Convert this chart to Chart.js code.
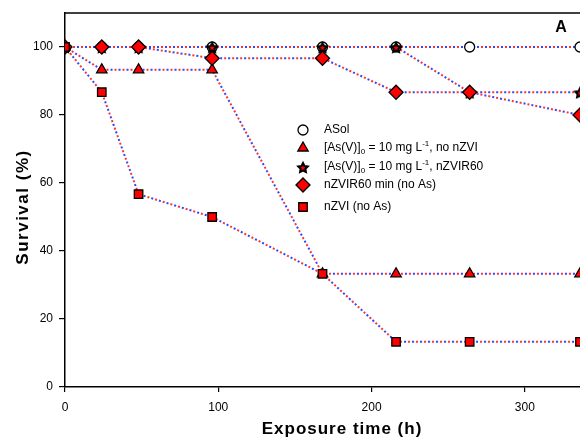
<!DOCTYPE html>
<html>
<head>
<meta charset="utf-8">
<script src="https://cdn.jsdelivr.net/npm/chart.js@4/dist/chart.umd.min.js"></script>
<style>
  html, body { margin: 0; padding: 0; background: #fff; }
  #wrap { width: 580px; height: 441px; }
</style>
</head>
<body>
<div id="wrap"><canvas id="plot" width="580" height="441"></canvas></div>
<script>
// exposure times (h)
const hours = [0, 24, 48, 96, 168, 216, 264, 336];

// survival (%) per treatment
const asol      = [100, 100, 100, 100, 100, 100, 100, 100];
const asNoNzvi  = [100, 93.3, 93.3, 93.3, 33.3, 33.3, 33.3, 33.3];
const asNzvir   = [100, 100, 100, 100, 100, 100, 86.7, 86.7];
const nzvir60   = [100, 100, 100, 96.7, 96.7, 86.7, 86.7, 80];
const nzvi      = [100, 86.7, 56.7, 50, 33.3, 13.3, 13.3, 13.3];

const yTicks = [0, 20, 40, 60, 80, 100];
const xTicks = [0, 100, 200, 300];

// filled star marker (black outline, red core)
function makeStar(r) {
    const cv = document.createElement('canvas');
    const s = Math.ceil(r * 2 + 4);
    cv.width = s; cv.height = s;
    const c = cv.getContext('2d');
    c.beginPath();
    for (let i = 0; i < 10; i++) {
        const rr = i % 2 === 0 ? r : r * 0.5;
        const a = -Math.PI / 2 + i * Math.PI / 5;
        c.lineTo(s / 2 + rr * Math.cos(a), s / 2 + 1 + rr * Math.sin(a));
    }
    c.closePath();
    c.fillStyle = '#ff0000'; c.fill();
    c.strokeStyle = '#000'; c.lineWidth = 2; c.stroke();
    return cv;
}
const starImg = makeStar(5);

// drawn bottom to top: circle, star, triangle, diamond, square
const series = [
    { name: 'ASol', values: asol, style: 'circle', fill: '#ffffff', radius: 5, order: 5 },
    { name: 'asNo', values: asNoNzvi, style: 'triangle', fill: '#ff0000', radius: 6, order: 3 },
    { name: 'asNzvir', values: asNzvir, style: starImg, fill: '#ff0000', radius: 6, order: 4 },
    { name: 'nzvir60', values: nzvir60, style: 'rectRot', fill: '#ff0000', radius: 7, order: 2 },
    { name: 'nzvi', values: nzvi, style: 'rect', fill: '#ff0000', radius: 6, order: 1 },
];

const pts = (vals) => hours.map((h, i) => ({ x: h, y: vals[i] }));

const datasets = [];
// dotted connecting lines: red and blue dots alternating
series.forEach(s => {
    datasets.push({
        data: pts(s.values), borderColor: '#ff3333', borderWidth: 2,
        borderDash: [2, 6], pointRadius: 0, fill: false, order: 10
    });
    datasets.push({
        data: pts(s.values), borderColor: '#3344ff', borderWidth: 2,
        borderDash: [2, 6], borderDashOffset: 4, pointRadius: 0, fill: false, order: 10
    });
});
// markers
series.forEach(s => {
    datasets.push({
        label: s.name, data: pts(s.values), showLine: false,
        pointStyle: s.style, pointRadius: s.radius,
        pointBackgroundColor: s.fill, pointBorderColor: '#000000',
        pointBorderWidth: 1.3, order: s.order
    });
});

const decor = {
    id: 'decor',
    afterDraw(chart) {
        const c = chart.ctx;
        const a = chart.chartArea;
        c.save();
        // top frame line
        c.strokeStyle = '#000'; c.lineWidth = 1.5;
        c.beginPath(); c.moveTo(a.left, a.top); c.lineTo(a.right, a.top); c.stroke();
        c.fillStyle = '#000';
        c.textAlign = 'center'; c.textBaseline = 'middle';
        // panel letter
        c.font = 'bold 16px Arial, "Liberation Sans"';
        c.fillText('A', 561, 28);
        // axis titles (spaced lettering)
        c.letterSpacing = '1px';
        c.font = 'bold 17px Arial, "Liberation Sans"';
        c.fillText('Exposure time (h)', 342, 429);
        c.save();
        c.translate(23, 207);
        c.rotate(-Math.PI / 2);
        c.letterSpacing = '1.5px';
        c.fillText('Survival (%)', 0, 0);
        c.restore();
        c.letterSpacing = '0px';

        // legend
        const lx = 303, tx = 324;
        const rows = [130, 148, 167, 185, 207];
        c.textAlign = 'left'; c.textBaseline = 'middle';
        const base = '12px Arial, "Liberation Sans"';
        const small = '8px Arial, "Liberation Sans"';
        const parts = [
            [['ASol', 0]],
            [['[As(V)]', 0], ['0', 1], [' = 10 mg L', 0], ['-1', -1], [', no nZVI', 0]],
            [['[As(V)]', 0], ['0', 1], [' = 10 mg L', 0], ['-1', -1], [', nZVIR60', 0]],
            [['nZVIR60 min (no As)', 0]],
            [['nZVI (no As)', 0]]
        ];
        series.forEach((s, i) => {
            const y = rows[i];
            c.fillStyle = s.fill; c.strokeStyle = '#000'; c.lineWidth = 1.3;
            Chart.helpers.drawPoint(c, { pointStyle: s.style, radius: s.radius, rotation: 0, borderWidth: 1.3 }, lx, y);
            let x = tx;
            c.fillStyle = '#000';
            parts[i].forEach(([t, k]) => {
                c.font = k === 0 ? base : small;
                const dy = k === 1 ? 4 : (k === -1 ? -4 : 0);
                c.fillText(t, x, y + dy);
                x += c.measureText(t).width;
            });
        });
        c.restore();
    }
};

new Chart(document.getElementById('plot'), {
    type: 'line',
    data: { datasets: datasets },
    options: {
        responsive: false,
        animation: false,
        layout: { autoPadding: false, padding: { top: 13, right: 0, left: 0, bottom: 0 } },
        plugins: { legend: { display: false }, tooltip: { enabled: false } },
        scales: {
            x: {
                type: 'linear', min: 0, max: 336,
                afterBuildTicks: (s) => { s.ticks = xTicks.map(v => ({ value: v })); },
                afterFit: (s) => { s.height = 54; s.paddingRight = 0; s.paddingLeft = 0; },
                grid: { drawOnChartArea: false, drawTicks: true, tickLength: 5, color: '#000', lineWidth: 1.2 },
                border: { color: '#000', width: 1.5 },
                ticks: { color: '#000', font: { family: 'Arial, "Liberation Sans"', size: 12 }, padding: 8, maxRotation: 0 }
            },
            y: {
                type: 'linear', min: 0, max: 110,
                afterBuildTicks: (s) => { s.ticks = yTicks.map(v => ({ value: v })); },
                afterFit: (s) => { s.width = 65; s.paddingTop = 0; s.paddingBottom = 0; },
                grid: { drawOnChartArea: false, drawTicks: true, tickLength: 6, color: '#000', lineWidth: 1.2 },
                border: { color: '#000', width: 1.5 },
                ticks: { color: '#000', font: { family: 'Arial, "Liberation Sans"', size: 12 }, padding: 6 }
            }
        }
    },
    plugins: [decor]
});
</script>
</body>
</html>
